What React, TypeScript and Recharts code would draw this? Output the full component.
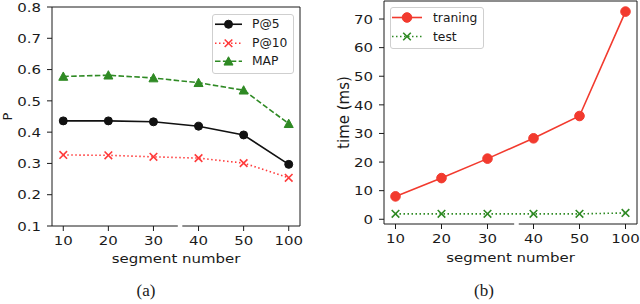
import { Legend, Line, LineChart, ReferenceLine, XAxis, YAxis } from 'recharts'

const segments = ['10', '20', '30', '40', '50', '100']
const p5 = [0.436, 0.436, 0.433, 0.419, 0.391, 0.297]
const p10 = [0.327, 0.326, 0.321, 0.317, 0.301, 0.254]
const mapScore = [0.578, 0.582, 0.573, 0.558, 0.534, 0.427]
const training = [8.0, 14.4, 21.2, 28.3, 36.1, 72.6]
const test = [1.9, 1.9, 1.9, 1.9, 1.9, 2.2]
const pTicks = [0.1, 0.2, 0.3, 0.4, 0.5, 0.6, 0.7, 0.8]
const timeTicks = [0, 10, 20, 30, 40, 50, 60, 70]
const xTicks = segments.map((_, i) => i)

const leftRows = segments.map((s, i) => ({ i, seg: s, p5: p5[i], p10: p10[i], map: mapScore[i] }))
const rightRows = segments.map((s, i) => ({ i, seg: s, training: training[i], test: test[i] }))

const FONT = 'DejaVu Sans'
const ink = '#1a1a1a'
const black = '#111'
const red = '#f23a2e'
const red2 = '#ff3b3b'
const green = '#2f8a24'
const TICK_FS = 13
const STRETCH = 1.15

type Marker = 'circle' | 'cross' | 'tri'

function MarkerShape({ cx, cy, kind, color, size }: { cx: number; cy: number; kind: Marker; color: string; size: number }) {
  if (kind === 'circle') return <circle cx={cx} cy={cy} r={size} fill={color} stroke={color} />
  if (kind === 'cross')
    return (
      <path
        d={`M${cx - size},${cy - size}L${cx + size},${cy + size}M${cx - size},${cy + size}L${cx + size},${cy - size}`}
        stroke={color}
        strokeWidth={1.6}
        fill='none'
      />
    )
  return (
    <polygon
      points={`${cx},${cy - size} ${cx + size},${cy + size * 0.85} ${cx - size},${cy + size * 0.85}`}
      fill={color}
      stroke={color}
    />
  )
}

function dotFor(kind: Marker, color: string, size: number) {
  // eslint-disable-next-line @typescript-eslint/no-explicit-any
  return (p: any) => <MarkerShape key={p.index} cx={p.cx} cy={p.cy} kind={kind} color={color} size={size} />
}

const leftSeries = [
  { name: 'P@5', color: black, dash: undefined, marker: 'circle' as Marker, size: 4 },
  { name: 'P@10', color: red2, dash: '1.5 2.5', marker: 'cross' as Marker, size: 3.8 },
  { name: 'MAP', color: green, dash: '5.5 2.4', marker: 'tri' as Marker, size: 4.5 },
]
const rightSeries = [
  { name: 'traning', color: red, dash: undefined, marker: 'circle' as Marker, size: 4.8 },
  { name: 'test', color: green, dash: '1.5 2.5', marker: 'cross' as Marker, size: 3.8 },
]

// eslint-disable-next-line @typescript-eslint/no-explicit-any
function XTick({ x, y, payload }: any) {
  return (
    <text
      transform={`translate(${x},${y}) scale(${STRETCH},1)`}
      textAnchor='middle'
      dy='0.71em'
      fontSize={TICK_FS}
      fontFamily={FONT}
      fill={ink}
    >
      {segments[payload.value]}
    </text>
  )
}

// eslint-disable-next-line @typescript-eslint/no-explicit-any
function YTick({ x, y, payload, digits }: any) {
  return (
    <text
      transform={`translate(${x},${y}) scale(${STRETCH},1)`}
      textAnchor='end'
      dy='0.36em'
      fontSize={TICK_FS}
      fontFamily={FONT}
      fill={ink}
    >
      {Number(payload.value).toFixed(digits)}
    </text>
  )
}

function xTitle(baseline: number) {
  // eslint-disable-next-line @typescript-eslint/no-explicit-any
  return (props: any) => {
    const vb = props.viewBox
    return (
      <text
        transform={`translate(${vb.x + vb.width / 2},${vb.y + baseline}) scale(${STRETCH},1)`}
        textAnchor='middle'
        fontSize={TICK_FS}
        fontFamily={FONT}
        fill={ink}
      >
        segment number
      </text>
    )
  }
}

function yTitle(text: string, cx: number, fontSize: number) {
  // eslint-disable-next-line @typescript-eslint/no-explicit-any
  return (props: any) => {
    const vb = props.viewBox
    return (
      <text
        transform={`translate(${cx},${vb.y + vb.height / 2}) rotate(-90)`}
        textAnchor='middle'
        dy='0.36em'
        fontSize={fontSize}
        fontFamily={FONT}
        fill={ink}
      >
        {text}
      </text>
    )
  }
}

function LegendBox({
  items,
  sampleW,
  rowH,
  padL,
  gap,
}: {
  items: typeof leftSeries
  sampleW: number
  rowH: number
  padL: number
  gap: number
}) {
  return (
    <div
      style={{
        border: '1px solid #cfcfcf',
        borderRadius: 3,
        background: 'rgba(255,255,255,0.85)',
        paddingLeft: padL,
        paddingBottom: 2,
        boxSizing: 'border-box',
      }}
    >
      {items.map((s) => (
        <div key={s.name} style={{ display: 'flex', alignItems: 'center', height: rowH }}>
          <svg width={sampleW} height={rowH} style={{ display: 'block' }}>
            <line
              x1={0}
              x2={sampleW}
              y1={rowH / 2}
              y2={rowH / 2}
              stroke={s.color}
              strokeWidth={1.6}
              strokeDasharray={s.dash}
            />
            <MarkerShape cx={sampleW / 2} cy={rowH / 2} kind={s.marker} color={s.color} size={s.size} />
          </svg>
          <span
            style={{
              marginLeft: gap,
              fontFamily: FONT,
              fontSize: 11.5,
              color: ink,
              display: 'inline-block',
              transform: 'scale(1.07,1)',
              transformOrigin: 'left center',
              whiteSpace: 'nowrap',
            }}
          >
            {s.name}
          </span>
        </div>
      ))}
    </div>
  )
}

function Caption({ text, cx }: { text: string; cx: number }) {
  return (
    <div
      style={{
        position: 'absolute',
        left: cx - 20,
        width: 40,
        top: 281,
        textAlign: 'center',
        fontFamily: 'Liberation Serif',
        fontSize: 17,
        color: ink,
        lineHeight: '20px',
      }}
    >
      {text}
    </div>
  )
}

const pMin = 0.1
const pMax = 0.8
const tMin = -1.65
const tMax = 76.3

function PChart() {
  return (
    <LineChart width={320} height={304} data={leftRows} margin={{ top: 7, right: 20, bottom: 48, left: 0 }}>
      <XAxis
        type='number'
        dataKey='i'
        domain={[-0.25, 5.25]}
        allowDataOverflow
        ticks={xTicks}
        interval={0}
        axisLine={false}
        tickLine={{ stroke: ink }}
        tickSize={5}
        tickMargin={5}
        tick={<XTick />}
        height={30}
        label={xTitle(36.5)}
      />
      <YAxis
        type='number'
        domain={[pMin, pMax]}
        allowDataOverflow
        ticks={pTicks}
        interval={0}
        width={52}
        axisLine={{ stroke: ink }}
        tickLine={{ stroke: ink }}
        tickSize={5}
        tickMargin={6}
        tick={<YTick digits={1} />}
        label={yTitle('P', 7.5, 13)}
      />
      <ReferenceLine y={pMax} stroke={ink} ifOverflow='visible' />
      <ReferenceLine x={5.25} stroke={ink} ifOverflow='visible' />
      <ReferenceLine
        segment={[
          { x: -0.25, y: pMin },
          { x: 2.54, y: pMin },
        ]}
        stroke={ink}
        ifOverflow='visible'
      />
      <ReferenceLine
        segment={[
          { x: 2.64, y: pMin },
          { x: 5.25, y: pMin },
        ]}
        stroke={ink}
        ifOverflow='visible'
      />
      {leftSeries.map((s, k) => (
        <Line
          key={s.name}
          dataKey={['p5', 'p10', 'map'][k]}
          name={s.name}
          stroke={s.color}
          strokeWidth={1.6}
          strokeDasharray={s.dash}
          dot={dotFor(s.marker, s.color, s.size)}
          activeDot={false}
          isAnimationActive={false}
        />
      ))}
      <Legend
        layout='vertical'
        align='center'
        verticalAlign='middle'
        wrapperStyle={{ left: 212, top: 14, width: 82 }}
        content={() => <LegendBox items={leftSeries} sampleW={27} rowH={18.5} padL={2} gap={10} />}
      />
    </LineChart>
  )
}

function TimeChart() {
  return (
    <LineChart width={320} height={304} data={rightRows} margin={{ top: 1, right: 3, bottom: 50, left: 0 }}>
      <XAxis
        type='number'
        dataKey='i'
        domain={[-0.25, 5.25]}
        allowDataOverflow
        ticks={xTicks}
        interval={0}
        axisLine={false}
        tickLine={{ stroke: ink }}
        tickSize={5}
        tickMargin={5}
        tick={<XTick />}
        height={30}
        label={xTitle(37.5)}
      />
      <YAxis
        type='number'
        domain={[tMin, tMax]}
        allowDataOverflow
        ticks={timeTicks}
        interval={0}
        width={64}
        axisLine={{ stroke: ink }}
        tickLine={{ stroke: ink }}
        tickSize={5}
        tickMargin={6}
        tick={<YTick digits={0} />}
        label={yTitle('time (ms)', 24, 15)}
      />
      <ReferenceLine y={tMax} stroke={ink} ifOverflow='visible' />
      <ReferenceLine x={5.25} stroke={ink} ifOverflow='visible' />
      <ReferenceLine
        segment={[
          { x: -0.25, y: tMin },
          { x: 2.58, y: tMin },
        ]}
        stroke={ink}
        ifOverflow='visible'
      />
      <ReferenceLine
        segment={[
          { x: 2.68, y: tMin },
          { x: 5.25, y: tMin },
        ]}
        stroke={ink}
        ifOverflow='visible'
      />
      {rightSeries.map((s, k) => (
        <Line
          key={s.name}
          dataKey={['training', 'test'][k]}
          name={s.name}
          stroke={s.color}
          strokeWidth={1.6}
          strokeDasharray={s.dash}
          dot={dotFor(s.marker, s.color, s.size)}
          activeDot={false}
          isAnimationActive={false}
        />
      ))}
      <Legend
        layout='vertical'
        align='center'
        verticalAlign='middle'
        wrapperStyle={{ left: 70, top: 7, width: 94 }}
        content={() => <LegendBox items={rightSeries} sampleW={30} rowH={19} padL={1} gap={11} />}
      />
    </LineChart>
  )
}

export default function App() {
  return (
    <div style={{ position: 'relative', width: 640, height: 304, background: '#fff', overflow: 'hidden' }}>
      <style>{'body{margin:0}'}</style>
      <div style={{ position: 'absolute', left: 0, top: 0 }}>
        <PChart />
      </div>
      <div style={{ position: 'absolute', left: 320, top: 0 }}>
        <TimeChart />
      </div>
      <Caption text='(a)' cx={146} />
      <Caption text='(b)' cx={484} />
    </div>
  )
}
